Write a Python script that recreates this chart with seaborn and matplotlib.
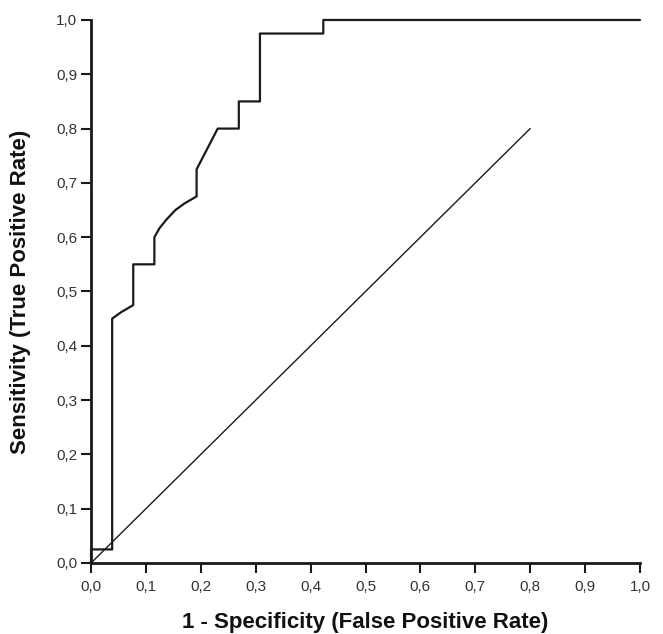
import matplotlib
matplotlib.use("Agg")
import matplotlib.pyplot as plt
import seaborn as sns
import pandas as pd
from matplotlib.ticker import FuncFormatter

sns.set_theme(style="ticks")
plt.rcParams["font.family"] = ["Liberation Sans", "DejaVu Sans"]

# ROC curve vertices (1 - specificity, sensitivity)
fpr = [0.0, 0.0, 0.0385, 0.0385, 0.055, 0.0769, 0.0769, 0.1154, 0.1154,
       0.125, 0.137, 0.149, 0.1538, 0.170, 0.1923, 0.1923, 0.2308, 0.2692,
       0.2692, 0.3077, 0.3077, 0.4231, 0.4231, 1.0]
tpr = [0.0, 0.025, 0.025, 0.45, 0.462, 0.475, 0.55, 0.55, 0.60,
       0.617, 0.632, 0.645, 0.65, 0.662, 0.675, 0.725, 0.80, 0.80,
       0.85, 0.85, 0.975, 0.975, 1.0, 1.0]

# reference diagonal
ref_x = [0.0, 0.8]
ref_y = [0.0, 0.8]

ticks = [0.0, 0.1, 0.2, 0.3, 0.4, 0.5, 0.6, 0.7, 0.8, 0.9, 1.0]

roc = pd.DataFrame({"fpr": fpr, "tpr": tpr})
diag = pd.DataFrame({"x": ref_x, "y": ref_y})

fig = plt.figure(figsize=(6.63, 6.34), dpi=100)
ax = fig.add_axes([0.1373, 0.112, 0.828, 0.8565])

sns.lineplot(data=roc, x="fpr", y="tpr", sort=False, estimator=None,
             color="#1a1a1a", linewidth=1.6, ax=ax)
sns.lineplot(data=diag, x="x", y="y", sort=False, estimator=None,
             color="#1a1a1a", linewidth=1.0, ax=ax)

ax.set_xlim(0, 1.0)
ax.set_ylim(0, 1.0)
ax.set_xticks(ticks)
ax.set_yticks(ticks)
comma = FuncFormatter(lambda v, p: f"{v:.1f}".replace(".", ","))
ax.xaxis.set_major_formatter(comma)
ax.yaxis.set_major_formatter(comma)

sns.despine(ax=ax)
for side in ("left", "bottom"):
    ax.spines[side].set_linewidth(2.0)
    ax.spines[side].set_color("#1a1a1a")
ax.tick_params(axis="both", direction="out", length=7, width=1.5,
               color="#1a1a1a", labelsize=11, labelcolor="#333333")
ax.tick_params(axis="x", pad=5)
ax.tick_params(axis="y", pad=3)

ax.set_xlabel("1 - Specificity (False Positive Rate)", fontsize=16,
              fontweight="bold", color="#111111", labelpad=13)
ax.set_ylabel("Sensitivity (True Positive Rate)", fontsize=16,
              fontweight="bold", color="#111111", labelpad=18)
ax.grid(False)
ax.set_facecolor("white")
fig.patch.set_facecolor("white")
for line in ax.lines:
    line.set_clip_on(False)

fig.savefig("out.png", dpi=100)
